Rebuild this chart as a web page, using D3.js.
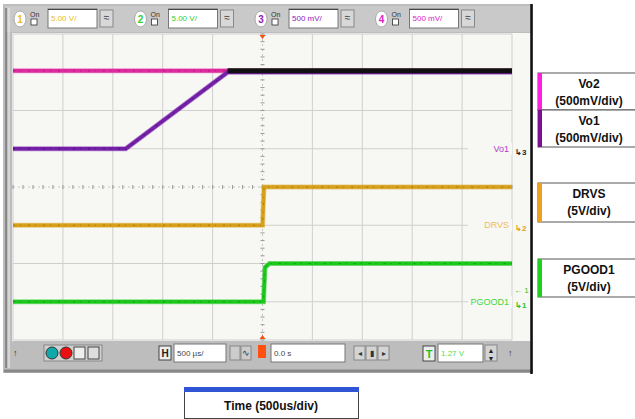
<!DOCTYPE html>
<html>
<head>
<meta charset="utf-8">
<script src="https://cdn.jsdelivr.net/npm/d3@7/dist/d3.min.js"></script>
<style>
body { margin: 0; background: #fff; }
svg { display: block; font-family: "Liberation Sans", Arial, sans-serif; }
</style>
</head>
<body>
<svg id="chart" width="635" height="419"></svg>
<script>
// time in us, levels in volts
const vo2Time = [-2500, 2500]
const vo2Volts = [1.02, 1.02]
const vo1Time = [-2500, -1370, -350, 2500]
const vo1Volts = [0, 0, 1.0, 1.0]
const drvsTime = [-2500, 0, 15, 2500]
const drvsVolts = [0, 0, 5, 5]
const pgoodTime = [-2500, 10, 25, 70, 2500]
const pgoodVolts = [0, 0, 4.5, 5, 5]

// scope channel settings (toolbar)
const chanIds = [1, 2, 3, 4]
const chanScales = ["5.00 V/", "5.00 V/", "500 mV/", "500 mV/"]
const chanColors = ["#e8c020", "#30d030", "#9020c0", "#e020c8"]

// legend on the right
const legendNames = [["Vo2", "(500mV/div)"], ["Vo1", "(500mV/div)"], ["DRVS", "(5V/div)"], ["PGOOD1", "(5V/div)"]]
const legendColors = ["#ff20e0", "#7a1090", "#f0a020", "#20d020"]

const svg = d3.select("#chart")

const x = d3.scaleLinear().domain([-2500, 2500]).range([13, 512])
const y = d3.scaleLinear().domain([-4, 4]).range([340, 34])

// scope frame
svg.append("rect").attr("x", 3).attr("y", 4).attr("width", 530).attr("height", 369).attr("fill", "#bdbdbd")
svg.append("rect").attr("x", 5).attr("y", 6).attr("width", 526).attr("height", 26).attr("fill", "#c9c9c9")
svg.append("line").attr("x1", 6).attr("x2", 6).attr("y1", 8).attr("y2", 368).attr("stroke", "#777").attr("stroke-width", 1.5)
svg.append("line").attr("x1", 9).attr("x2", 9).attr("y1", 8).attr("y2", 368).attr("stroke", "#eee").attr("stroke-width", 1)
svg.append("line").attr("x1", 4).attr("x2", 533).attr("y1", 371).attr("y2", 371).attr("stroke", "#888").attr("stroke-width", 3)
svg.append("rect").attr("x", 12).attr("y", 33).attr("width", 519).attr("height", 308).attr("fill", "#f7f7f4")
svg.append("line").attr("x1", 531.5).attr("x2", 531.5).attr("y1", 4).attr("y2", 374).attr("stroke", "#111").attr("stroke-width", 2.5)

// grid
const grid = svg.append("g")
grid.selectAll(".vg").data(x.ticks(10)).join("line")
    .attr("x1", d => x(d)).attr("x2", d => x(d))
    .attr("y1", y(4)).attr("y2", y(-4))
    .attr("stroke", d => d === 0 ? "#c4c4c4" : "#cfcfcf")
    .attr("stroke-dasharray", d => d === 0 ? "2,3" : null)
grid.selectAll(".hg").data(y.ticks(8)).join("line")
    .attr("x1", x(-2500)).attr("x2", x(2500))
    .attr("y1", d => y(d)).attr("y2", d => y(d))
    .attr("stroke", d => d === 0 ? "#c4c4c4" : "#cfcfcf")
    .attr("stroke-dasharray", d => d === 0 ? "2,3" : null)

// minor ticks on the centre lines
const minorX = d3.range(-2500, 2501, 100)
const minorY = d3.range(-4, 4.01, 0.2)
grid.selectAll(".mx").data(minorX).join("line")
    .attr("x1", d => x(d)).attr("x2", d => x(d))
    .attr("y1", y(0) - 2).attr("y2", y(0) + 2)
    .attr("stroke", "#999")
grid.selectAll(".my").data(minorY).join("line")
    .attr("x1", x(0) - 2).attr("x2", x(0) + 2)
    .attr("y1", d => y(d)).attr("y2", d => y(d))
    .attr("stroke", "#999")

// trigger position markers
svg.append("path").attr("d", `M${x(0) - 3},35 L${x(0) + 3},35 L${x(0)},39 Z`).attr("fill", "#ff5010")
svg.append("path").attr("d", `M${x(0) - 3},339 L${x(0) + 3},339 L${x(0)},335 Z`).attr("fill", "#ff5010")

// traces
const traces = [
    { time: vo2Time, volts: vo2Volts, vdiv: 0.5, gnd: 1, color: "#e02aa0", speck: "#901060" },
    { time: vo1Time, volts: vo1Volts, vdiv: 0.5, gnd: 1, color: "#7420a8", speck: "#3a0860" },
    { time: drvsTime, volts: drvsVolts, vdiv: 5, gnd: -1, color: "#d8a018", speck: "#806010" },
    { time: pgoodTime, volts: pgoodVolts, vdiv: 5, gnd: -3, color: "#1cc81c", speck: "#108010" }
]

function tracePath(t) {
    return d3.line()
        .x((d, i) => x(t.time[i]))
        .y((d, i) => y(t.gnd + t.volts[i] / t.vdiv))(t.volts)
}

const traceG = svg.append("g")
traces.forEach(t => {
    traceG.append("path").attr("d", tracePath(t)).attr("fill", "none")
        .attr("stroke", t.color).attr("stroke-width", 5).attr("stroke-opacity", 0.5)
    traceG.append("path").attr("d", tracePath(t)).attr("fill", "none")
        .attr("stroke", t.color).attr("stroke-width", 3.5)
    traceG.append("path").attr("d", tracePath(t)).attr("fill", "none")
        .attr("stroke", t.speck).attr("stroke-width", 1).attr("stroke-opacity", 0.6)
        .attr("stroke-dasharray", "2,5,1,7")
})

// where Vo1 reaches Vo2 both traces overlap and show up dark
const overlapStart = vo1Time[vo1Volts.indexOf(d3.max(vo1Volts))]
const overlap = { time: [overlapStart, 2500], volts: [vo2Volts[0], vo2Volts[1]], vdiv: 0.5, gnd: 1 }
traceG.append("path").attr("d", tracePath(overlap)).attr("fill", "none")
    .attr("stroke", "#111").attr("stroke-width", 5)

// channel labels on the right edge of the screen
const markers = [
    { label: "Vo1", lvl: 1, color: "#b040c8", num: "3", ncol: "#222" },
    { label: "DRVS", lvl: -1, color: "#f0c050", num: "2", ncol: "#e0a020" },
    { label: "PGOOD1", lvl: -3, color: "#40d840", num: "1", ncol: "#30c030" }
]
markers.forEach(m => {
    svg.append("rect").attr("x", 468).attr("y", y(m.lvl) - 6).attr("width", 44).attr("height", 12).attr("fill", "#f7f7f4")
    svg.append("text").attr("x", 509).attr("y", y(m.lvl) + 3).attr("text-anchor", "end")
        .attr("font-size", 9).attr("fill", m.color).text(m.label)
    svg.append("text").attr("x", 515).attr("y", y(m.lvl) + 6)
        .attr("font-size", 8).attr("font-weight", "bold").attr("fill", m.ncol).text("↳" + m.num)
})
svg.append("text").attr("x", 514).attr("y", y(-2.7) + 3)
    .attr("font-size", 8).attr("fill", "#30c030").text("← 1")

// top toolbar: channel settings
const chanX = chanIds.map((d, i) => 20 + i * 120.5)
const tb = svg.append("g")
chanIds.forEach((id, i) => {
    const cx = chanX[i]
    tb.append("ellipse").attr("cx", cx).attr("cy", 19).attr("rx", 6).attr("ry", 8).attr("fill", "#fff").attr("stroke", "#aaa")
    tb.append("text").attr("x", cx).attr("y", 23).attr("text-anchor", "middle").attr("font-size", 10)
        .attr("font-weight", "bold").attr("fill", chanColors[i]).text(id)
    tb.append("text").attr("x", cx + 10).attr("y", 17).attr("font-size", 7).attr("fill", "#333").text("On")
    tb.append("rect").attr("x", cx + 11).attr("y", 19).attr("width", 6).attr("height", 6).attr("fill", "#fff").attr("stroke", "#333").attr("stroke-width", 0.8)
    tb.append("rect").attr("x", cx + 28).attr("y", 9).attr("width", 49).attr("height", 19).attr("fill", "#fff").attr("stroke", "#777")
    tb.append("line").attr("x1", cx + 28).attr("x2", cx + 77).attr("y1", 9.5).attr("y2", 9.5).attr("stroke", "#444")
    tb.append("text").attr("x", cx + 31).attr("y", 21).attr("font-size", 8).attr("fill", chanColors[i]).text(chanScales[i])
    tb.append("rect").attr("x", cx + 80).attr("y", 10).attr("width", 13).attr("height", 17).attr("fill", "#d8d8d8").attr("stroke", "#888")
    tb.append("text").attr("x", cx + 86.5).attr("y", 21).attr("text-anchor", "middle").attr("font-size", 10).attr("fill", "#333").text("≈")
})

// bottom toolbar
const bb = svg.append("g")
bb.append("text").attr("x", 13).attr("y", 356).attr("font-size", 9).attr("font-weight", "bold").attr("fill", "#333").text("↑")
bb.append("rect").attr("x", 44).attr("y", 345).attr("width", 58).attr("height", 16).attr("fill", "#d0d0d0").attr("stroke", "#888")
bb.append("circle").attr("cx", 52).attr("cy", 353).attr("r", 6).attr("fill", "#10a8a8").attr("stroke", "#333")
bb.append("circle").attr("cx", 66).attr("cy", 353).attr("r", 6).attr("fill", "#e81010").attr("stroke", "#333")
bb.append("rect").attr("x", 74).attr("y", 347).attr("width", 11).attr("height", 12).attr("fill", "#eee").attr("stroke", "#444")
bb.append("rect").attr("x", 88).attr("y", 347).attr("width", 11).attr("height", 12).attr("fill", "#ddd").attr("stroke", "#444")
bb.append("rect").attr("x", 159).attr("y", 346).attr("width", 12).attr("height", 14).attr("fill", "#eee").attr("stroke", "#444")
bb.append("text").attr("x", 165).attr("y", 357).attr("text-anchor", "middle").attr("font-size", 10).attr("font-weight", "bold").attr("fill", "#222").text("H")
bb.append("rect").attr("x", 174).attr("y", 344).attr("width", 52).attr("height", 18).attr("fill", "#fff").attr("stroke", "#777")
bb.append("text").attr("x", 177).attr("y", 356).attr("font-size", 8).attr("fill", "#444").text("500 µs/")
bb.append("rect").attr("x", 230).attr("y", 346).attr("width", 10).attr("height", 14).attr("fill", "#ccc").attr("stroke", "#888")
bb.append("rect").attr("x", 241).attr("y", 346).attr("width", 10).attr("height", 14).attr("fill", "#ccc").attr("stroke", "#888")
bb.append("text").attr("x", 246).attr("y", 356).attr("text-anchor", "middle").attr("font-size", 9).attr("fill", "#333").text("∿")
bb.append("rect").attr("x", 258).attr("y", 345).attr("width", 8).attr("height", 13).attr("fill", "#ff5010")
bb.append("rect").attr("x", 271).attr("y", 344).attr("width", 74).attr("height", 18).attr("fill", "#fff").attr("stroke", "#777")
bb.append("text").attr("x", 274).attr("y", 356).attr("font-size", 8).attr("fill", "#444").text("0.0 s")
const navX = [354, 366, 378]
const navTxt = ["◂", "▮", "▸"]
navX.forEach((nx, i) => {
    bb.append("rect").attr("x", nx).attr("y", 346).attr("width", 11).attr("height", 14).attr("fill", "#d4d4d4").attr("stroke", "#888")
    bb.append("text").attr("x", nx + 5.5).attr("y", 356).attr("text-anchor", "middle").attr("font-size", 8).attr("fill", "#333").text(navTxt[i])
})
bb.append("rect").attr("x", 423).attr("y", 346).attr("width", 12).attr("height", 15).attr("fill", "#eee").attr("stroke", "#444")
bb.append("text").attr("x", 429).attr("y", 358).attr("text-anchor", "middle").attr("font-size", 11).attr("font-weight", "bold").attr("fill", "#20c020").text("T")
bb.append("rect").attr("x", 438).attr("y", 344).attr("width", 45).attr("height", 18).attr("fill", "#fff").attr("stroke", "#777")
bb.append("text").attr("x", 441).attr("y", 356).attr("font-size", 8).attr("fill", "#50e050").text("1.27 V")
bb.append("rect").attr("x", 485).attr("y", 345).attr("width", 12).attr("height", 16).attr("fill", "#d4d4d4").attr("stroke", "#888")
bb.append("text").attr("x", 491).attr("y", 353).attr("text-anchor", "middle").attr("font-size", 7).attr("fill", "#222").text("▲")
bb.append("text").attr("x", 491).attr("y", 361).attr("text-anchor", "middle").attr("font-size", 7).attr("fill", "#222").text("▼")
bb.append("text").attr("x", 508).attr("y", 356).attr("font-size", 9).attr("font-weight", "bold").attr("fill", "#333").text("↑")

// legend boxes
const legTop = [73, 110, 183, 259]
const legH = [37, 37, 39, 38]
const lg = svg.append("g")
legendNames.forEach((nm, i) => {
    lg.append("rect").attr("x", 538).attr("y", legTop[i]).attr("width", 100).attr("height", legH[i])
        .attr("fill", "#fff").attr("stroke", "#555").attr("stroke-width", 1)
    lg.append("rect").attr("x", 538).attr("y", legTop[i]).attr("width", 4).attr("height", legH[i]).attr("fill", legendColors[i])
    lg.append("text").attr("x", 589).attr("y", legTop[i] + 15).attr("text-anchor", "middle")
        .attr("font-size", 12).attr("font-weight", "bold").attr("fill", "#111").text(nm[0])
    lg.append("text").attr("x", 589).attr("y", legTop[i] + 32).attr("text-anchor", "middle")
        .attr("font-size", 12).attr("font-weight", "bold").attr("fill", "#111").text(nm[1])
})

// time base box
svg.append("rect").attr("x", 184.5).attr("y", 387.5).attr("width", 174).attr("height", 31)
    .attr("fill", "#fff").attr("stroke", "#444")
svg.append("rect").attr("x", 184).attr("y", 387).attr("width", 175).attr("height", 5).attr("fill", "#2f55d4")
svg.append("text").attr("x", 271).attr("y", 410).attr("text-anchor", "middle")
    .attr("font-size", 12).attr("font-weight", "bold").attr("fill", "#111").text("Time (500us/div)")
</script>
</body>
</html>
